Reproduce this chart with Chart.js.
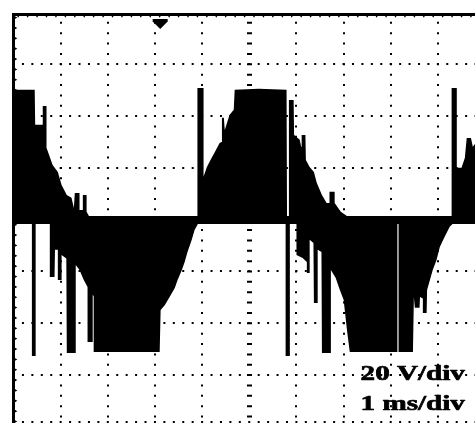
<!DOCTYPE html>
<html>
<head>
<meta charset="utf-8">
<script src="https://cdn.jsdelivr.net/npm/chart.js@4.4.1/dist/chart.umd.min.js"></script>
<style>
  html, body { margin: 0; padding: 0; background: #fff; overflow: hidden; }
  #wrap { width: 475px; height: 425px; overflow: hidden; position: relative; background: #fff; }
  canvas { display: block; }
</style>
</head>
<body>
<div id="wrap"><canvas id="scope" width="490" height="425"></canvas></div>
<script>
// Graticule: 1 ms/div across, 20 V/div up and down
const timeTicks = [0, 1, 2, 3, 4, 5, 6, 7, 8, 9, 10];
const voltTicks = [-60, -40, -20, 0, 20, 40, 60];
const timeRange = [0, 10];
const voltRange = [-78.3, 79.4];
const triggerTime = 3.11;
const scaleLabels = ['20 V/div', '1 ms/div'];

// Positive envelope of the switched output voltage (time in ms, value in V)
const upperT = [0, 0.45, 0.46, 0.62, 0.62, 0.70, 0.70, 0.83, 0.94, 1.02, 1.13, 1.23, 1.28, 1.30, 1.40, 1.40,
  1.47, 1.47, 1.55, 1.55, 1.60, 3.90, 3.90, 4.03, 4.03, 4.10, 4.20, 4.27, 4.37, 4.41, 4.42, 4.46, 4.48, 4.58,
  4.67, 4.69, 5.20, 5.79, 5.80, 5.83, 5.84, 5.94, 5.95, 6.07, 6.10, 6.11, 6.19, 6.20, 6.28, 6.37, 6.43, 6.54,
  6.64, 6.70, 6.70, 6.81, 6.81, 6.94, 7.07, 9.29, 9.29, 9.40, 9.40, 9.50, 9.57, 9.61, 9.70, 9.74, 9.80, 10];
const upperV = [50.1, 50.1, 36.6, 36.6, 43.9, 43.9, 27.7, 21.1, 18.4, 13.4, 9.5, 8.4, 4.5, 10.3, 10.3, 3.7,
  3.7, 9.5, 9.5, 3.0, 1.4, 1.4, 50.8, 50.8, 16.5, 20.3, 23.8, 26.1, 29.6, 30.0, 39.3, 39.3, 34.6, 40.4,
  42.4, 50.1, 50.5, 50.1, 1.4, 1.4, 46.2, 46.2, 32.7, 30.8, 28.1, 32.7, 32.7, 23.0, 20.3, 18.4, 14.2, 9.5,
  6.4, 6.4, 10.7, 10.7, 6.4, 3.0, 1.4, 1.4, 50.8, 50.8, 20.0, 20.0, 23.8, 31.5, 31.5, 28.1, 29.6, 29.6];

// Negative envelope of the switched output voltage
const lowerT = [0, 0.39, 0.39, 0.47, 0.47, 0.77, 0.77, 0.87, 0.88, 0.94, 0.94, 1.02, 1.02, 1.12, 1.13, 1.32,
  1.32, 1.40, 1.49, 1.57, 1.57, 1.68, 1.68, 1.70, 1.70, 3.10, 3.12, 3.21, 3.31, 3.42, 3.48, 3.57, 3.63, 3.69,
  3.78, 3.84, 3.91, 5.77, 5.77, 5.86, 5.86, 6.00, 6.00, 6.13, 6.22, 6.22, 6.28, 6.28, 6.36, 6.37, 6.45, 6.45,
  6.53, 6.54, 6.73, 6.73, 6.83, 6.92, 7.00, 7.07, 7.13, 8.14, 8.14, 8.165, 8.165, 8.47, 8.49, 8.51, 8.61, 8.62,
  8.68, 8.68, 8.76, 8.77, 8.83, 8.89, 8.97, 9.04, 9.14, 9.25, 9.31, 10];
const lowerV = [-1.7, -1.7, -52.7, -52.7, -1.7, -1.7, -22.2, -22.2, -11.7, -11.7, -23.3, -23.3, -13.7, -15.0, -51.5, -51.5,
  -17.5, -19.5, -23.3, -26.0, -47.3, -47.3, -29.1, -29.5, -51.1, -51.1, -34.9, -33.0, -29.9, -26.4, -23.3, -19.5, -16.4, -12.5,
  -7.8, -4.0, -1.7, -1.7, -52.7, -52.7, -1.7, -1.7, -13.7, -14.8, -16.4, -20.6, -20.6, -7.8, -9.0, -32.2, -32.2, -11.7,
  -12.5, -51.5, -51.5, -19.5, -22.5, -27.2, -31.0, -42.6, -51.1, -51.1, -1.7, -1.7, -51.1, -51.1, -29.9, -34.1, -34.1, -29.9,
  -30.5, -36.1, -36.1, -27.2, -23.3, -19.5, -15.6, -10.6, -6.7, -2.8, -1.7, -1.7];

const toPoints = (ts, vs) => ts.map((t, i) => ({ x: t, y: vs[i] }));

// Frame teeth, trigger marker and the V/div, ms/div read-out
const scopeOverlay = {
  id: 'scopeOverlay',
  afterDatasetsDraw(chart) {
    const { ctx, chartArea: a, scales: { x, y } } = chart;
    ctx.save();
    ctx.fillStyle = '#000';
    ctx.strokeStyle = '#000';

    for (let t = 0.1; t < timeRange[1]; t += 0.2) {
      const px = x.getPixelForValue(t);
      ctx.beginPath();
      ctx.moveTo(px - 1.6, a.top + 1);
      ctx.lineTo(px + 1.6, a.top + 1);
      ctx.lineTo(px, a.top + 3.8);
      ctx.closePath();
      ctx.fill();
    }
    for (let v = -78; v <= voltRange[1]; v += 4) {
      const py = y.getPixelForValue(v);
      ctx.beginPath();
      ctx.moveTo(a.left + 1, py - 1.6);
      ctx.lineTo(a.left + 1, py + 1.6);
      ctx.lineTo(a.left + 3.8, py);
      ctx.closePath();
      ctx.fill();
    }

    const tx = x.getPixelForValue(triggerTime);
    ctx.beginPath();
    ctx.moveTo(tx - 7.5, a.top + 5);
    ctx.lineTo(tx + 7.5, a.top + 5);
    ctx.lineTo(tx + 7.5, a.top + 7.5);
    ctx.lineTo(tx, a.top + 15);
    ctx.lineTo(tx - 7.5, a.top + 7.5);
    ctx.closePath();
    ctx.fill();

    ctx.font = 'bold 22px "Liberation Serif", "DejaVu Serif", serif';
    ctx.textAlign = 'left';
    ctx.textBaseline = 'alphabetic';
    ctx.lineWidth = 0.7;
    ctx.lineJoin = 'round';
    const left = x.getPixelForValue(7.36);
    const right = x.getPixelForValue(9.57);
    [[scaleLabels[0], -62], [scaleLabels[1], -73.5]].forEach(([s, v]) => {
      const w = ctx.measureText(s).width;
      ctx.save();
      ctx.translate(left, y.getPixelForValue(v));
      ctx.scale((right - left) / w, 1);
      ctx.fillText(s, 0, 0);
      ctx.strokeText(s, 0, 0);
      ctx.restore();
    });
    ctx.restore();
  }
};

const trace = {
  backgroundColor: '#000',
  borderColor: 'rgba(0,0,0,0)',
  borderWidth: 0,
  pointRadius: 0,
  tension: 0
};

new Chart(document.getElementById('scope'), {
  type: 'line',
  data: {
    datasets: [
      // each half fills across the zero band to the other half's resting level
      Object.assign({ label: 'upper', data: toPoints(upperT, upperV), fill: { value: lowerV[0] } }, trace),
      Object.assign({ label: 'lower', data: toPoints(lowerT, lowerV), fill: { value: upperV[20] } }, trace)
    ]
  },
  options: {
    responsive: false,
    animation: false,
    devicePixelRatio: 1,
    events: [],
    layout: { padding: { left: 13.5, top: 14, right: 4.9, bottom: 2.7 } },
    plugins: { legend: { display: false }, tooltip: { enabled: false } },
    scales: {
      x: {
        type: 'linear',
        position: 'top',
        min: timeRange[0],
        max: timeRange[1],
        afterBuildTicks: s => { s.ticks = timeTicks.map(v => ({ value: v })); },
        ticks: { display: false },
        grid: {
          color: '#000',
          drawTicks: false,
          lineWidth: c => (c.tick && c.tick.value === 5 ? 5 : 2)
        },
        border: { display: true, color: '#000', width: 3, dash: [2, 8.36], dashOffset: 4.5 }
      },
      y: {
        type: 'linear',
        position: 'left',
        min: voltRange[0],
        max: voltRange[1],
        afterBuildTicks: s => { s.ticks = [voltRange[0]].concat(voltTicks).map(v => ({ value: v })); },
        ticks: { display: false },
        grid: {
          color: '#000',
          drawTicks: false,
          lineWidth: c => (c.tick && c.tick.value === 0 ? 5 : 2)
        },
        border: { display: true, color: '#000', width: 3, dash: [2, 7.43], dashOffset: 2.5 }
      }
    }
  },
  plugins: [scopeOverlay]
});
</script>
</body>
</html>
